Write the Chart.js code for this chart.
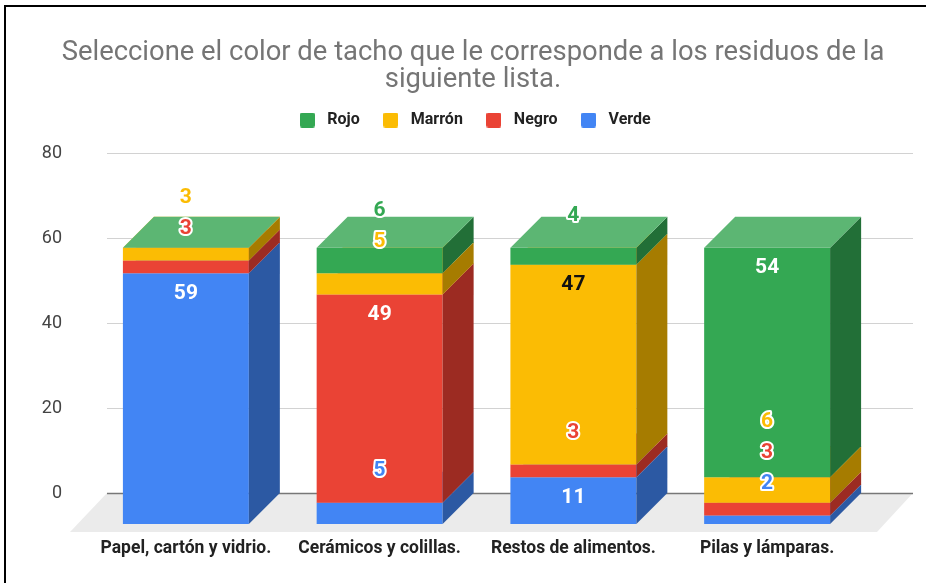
<!DOCTYPE html>
<html><head><meta charset="utf-8">
<script src="https://cdn.jsdelivr.net/npm/chart.js@4/dist/chart.umd.min.js"></script>
<style>html,body{margin:0;padding:0;background:#fff}#wrap{width:930px;height:583px;position:relative;overflow:hidden}canvas{display:block}</style>
</head><body><div id="wrap"><canvas id="c" width="930" height="583"></canvas></div>
<script>
// ---- data ----
const categories = ['Papel, cartón y vidrio.', 'Cerámicos y colillas.', 'Restos de alimentos.', 'Pilas y lámparas.'];
const seriesNames = ['Verde', 'Negro', 'Marrón', 'Rojo'];
const verde  = [59, 5, 11, 2];
const negro  = [3, 49, 3, 3];
const marron = [3, 5, 47, 6];
const rojo   = [0, 6, 4, 54];
const yTicks = [0, 20, 40, 60, 80];
const titleLines = ['Seleccione el color de tacho que le corresponde a los residuos de la', 'siguiente lista.'];

// ---- styles ----
const frontColors = ['#4285F4', '#EA4335', '#FBBC04', '#34A853'];
const sideColors  = ['#2C59A3', '#9C2B22', '#A67C00', '#226F37'];
const topColors   = ['#6EA0F6', '#EE6A5F', '#FCC93B', '#5CB673'];
const insideText  = ['#ffffff', '#ffffff', '#111111', '#ffffff'];
const DX = 31, DY = 31;
const TOP_SPACER = 15, RIGHT_SPACER = 66;

function legendIcon(color) {
  const c = document.createElement('canvas');
  c.width = 15; c.height = 15;
  const g = c.getContext('2d');
  g.fillStyle = color;
  g.beginPath();
  if (g.roundRect) g.roundRect(0, 0, 15, 15, 2); else g.rect(0, 0, 15, 15);
  g.fill();
  return c;
}
const legendIcons = frontColors.map(legendIcon);

function spacerBox(position, size, weight) {
  const horiz = position === 'top' || position === 'bottom';
  return {
    position, weight, fullSize: false, options: {},
    width: 0, height: 0, left: 0, top: 0, right: 0, bottom: 0,
    isHorizontal() { return horiz; },
    update(w, h) {
      if (horiz) { this.width = w; this.height = size; }
      else { this.width = size; this.height = h; }
    },
    draw() {}
  };
}

const spacer = {
  id: 'spacer',
  beforeInit(chart) {
    Chart.layouts.addBox(chart, spacerBox('top', TOP_SPACER, 100));
    Chart.layouts.addBox(chart, spacerBox('right', RIGHT_SPACER, 100));
  }
};

const threeD = {
  id: 'threeD',
  beforeDatasetsDraw(chart) {
    const ctx = chart.ctx, ca = chart.chartArea, ys = chart.scales.y;
    const y0 = ys.getPixelForValue(0);
    const gL = ca.left + 18, gR = ca.right + 49;
    ctx.save();
    // floor
    ctx.fillStyle = '#ebebeb';
    ctx.beginPath();
    ctx.moveTo(gL, y0); ctx.lineTo(gR, y0);
    ctx.lineTo(ca.right + 13, y0 + 39); ctx.lineTo(ca.left - 19, y0 + 39);
    ctx.closePath(); ctx.fill();
    // grid lines (back plane)
    yTicks.forEach(v => {
      const py = Math.round(ys.getPixelForValue(v)) + 0.5;
      ctx.strokeStyle = v === 0 ? '#777777' : '#d2d2d2';
      ctx.lineWidth = v === 0 ? 1.5 : 1;
      ctx.beginPath(); ctx.moveTo(gL, py); ctx.lineTo(gR, py); ctx.stroke();
    });
    const metas = chart.data.datasets.map((d, i) => chart.getDatasetMeta(i));
    // bars
    categories.forEach((c, j) => {
      metas.forEach((m, i) => {
        const el = m.data[j];
        const x0 = el.x - el.width / 2, x1 = el.x + el.width / 2;
        const yt = Math.min(el.y, el.base) + DY, yb = Math.max(el.y, el.base) + DY;
        ctx.fillStyle = frontColors[i];
        ctx.fillRect(x0, yt, x1 - x0, yb - yt);
        ctx.fillStyle = sideColors[i];
        ctx.beginPath();
        ctx.moveTo(x1, yt); ctx.lineTo(x1 + DX, yt - DY); ctx.lineTo(x1 + DX, yb - DY); ctx.lineTo(x1, yb);
        ctx.closePath(); ctx.fill();
        ctx.fillStyle = topColors[i];
        ctx.beginPath();
        ctx.moveTo(x0, yt); ctx.lineTo(x1, yt); ctx.lineTo(x1 + DX, yt - DY); ctx.lineTo(x0 + DX, yt - DY);
        ctx.closePath(); ctx.fill();
      });
    });
    // value labels
    ctx.font = 'bold 21px Roboto';
    ctx.textAlign = 'center';
    ctx.textBaseline = 'middle';
    ctx.lineJoin = 'round';
    categories.forEach((c, j) => {
      let limit = Infinity;
      metas.forEach((m, i) => {
        const v = chart.data.datasets[i].data[j];
        if (!v) return;
        const el = m.data[j];
        const yt = Math.min(el.y, el.base) + DY, yb = Math.max(el.y, el.base) + DY;
        const inside = (yb - yt) >= 30;
        let ly = inside ? yt + 20 : yt - 32;
        ly = Math.min(ly, limit);
        limit = ly - 31;
        const txt = String(v);
        if (inside) {
          ctx.fillStyle = insideText[i];
          ctx.fillText(txt, el.x, ly);
        } else {
          ctx.strokeStyle = '#ffffff';
          ctx.lineWidth = 4;
          ctx.strokeText(txt, el.x, ly);
          ctx.fillStyle = frontColors[i];
          ctx.fillText(txt, el.x, ly);
        }
      });
    });
    ctx.restore();
    return false;
  },
  afterDraw(chart) {
    const ctx = chart.ctx;
    ctx.save();
    ctx.fillStyle = '#000';
    ctx.fillRect(4, 5, 922, 2);
    ctx.fillRect(4, 5, 2, 578);
    ctx.restore();
  }
};

const seriesData = [verde, negro, marron, rojo];
new Chart(document.getElementById('c'), {
  type: 'bar',
  data: {
    labels: categories,
    datasets: seriesNames.map((n, i) => ({
      label: n,
      data: seriesData[i],
      backgroundColor: frontColors[i],
      borderWidth: 0,
      barPercentage: 0.65,
      categoryPercentage: 1
    }))
  },
  options: {
    responsive: false,
    animation: false,
    events: [],
    layout: { padding: { top: 30, right: 0, bottom: 0, left: 16 } },
    plugins: {
      tooltip: { enabled: false },
      title: {
        display: true,
        text: titleLines,
        color: '#757575',
        font: { family: 'Roboto', size: 27.4, weight: 'normal', lineHeight: '27px' },
        padding: { top: 10, bottom: -1 }
      },
      legend: {
        position: 'top',
        reverse: true,
        labels: {
          usePointStyle: true, pointStyleWidth: 24,
          boxWidth: 15, boxHeight: 15, padding: 19,
          color: '#222222',
          font: { family: 'Roboto', size: 16, weight: 'bold' },
          generateLabels(chart) {
            const items = Chart.defaults.plugins.legend.labels.generateLabels(chart);
            items.forEach(it => { it.pointStyle = legendIcons[it.datasetIndex]; it.lineWidth = 0; });
            return items;
          }
        }
      }
    },
    scales: {
      x: {
        stacked: true,
        grid: { display: false, drawTicks: false },
        border: { display: false },
        ticks: { color: '#222222', font: { family: 'Roboto', size: 17.5, weight: 'bold' }, padding: 45, maxRotation: 0, autoSkip: false },
        afterFit: s => { s.height = 90; }
      },
      y: {
        stacked: true,
        min: 0, max: 80,
        grid: { display: false, drawTicks: false },
        border: { display: false },
        ticks: { stepSize: 20, color: '#444444', font: { family: 'Roboto', size: 18 }, padding: 27 },
        afterBuildTicks: s => { s.ticks = yTicks.map(v => ({ value: v })); },
        afterFit: s => { s.width = 73; }
      }
    }
  },
  plugins: [spacer, threeD]
});
</script>
</body></html>
